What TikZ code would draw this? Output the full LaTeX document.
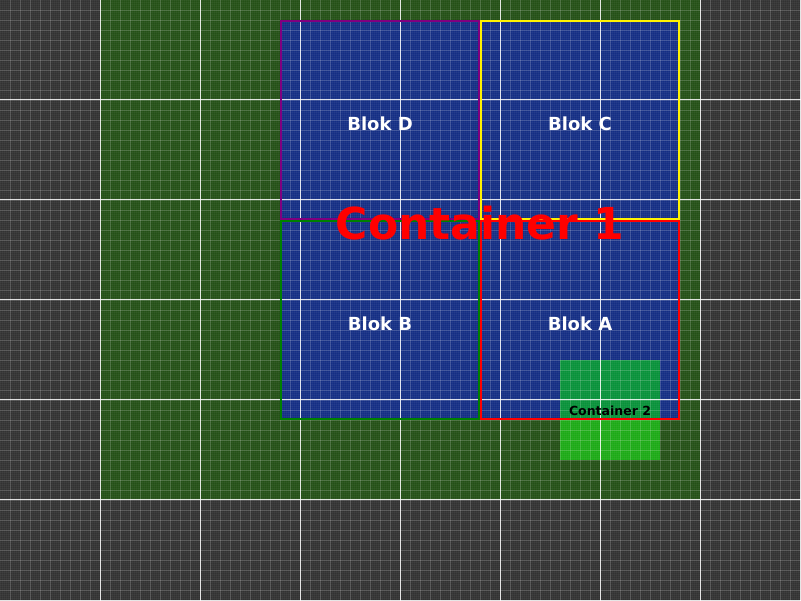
\documentclass[tikz,border=0pt]{standalone}
\usepackage{fontspec}
\setmainfont{DejaVu Sans}
\begin{document}
\begin{tikzpicture}[x=1pt,y=-1pt,
  blockbox/.style={fill=blockblue, minimum width=200pt, minimum height=200pt, inner sep=0pt},
  blockedge/.style={line width=2pt},
  blocktext/.style={text=white, font=\fontsize{18}{20}\selectfont\bfseries},
  finegrid/.style={draw=white, opacity=0.035, line width=0.5pt},
  minorgrid/.style={draw=white, opacity=0.16, line width=0.8pt},
  majorgrid/.style={draw=white, opacity=0.85, line width=1pt}]
\definecolor{bggray}{RGB}{50,50,50}
\definecolor{contgreen}{RGB}{36,80,22}
\definecolor{blockblue}{RGB}{20,46,132}
\definecolor{c2top}{RGB}{8,146,58}
\definecolor{c2bot}{RGB}{28,170,22}
\definecolor{dpurple}{RGB}{128,0,128}
\definecolor{bgreen}{RGB}{0,128,0}
\useasboundingbox (0,0) rectangle (801,601);
\fill[bggray] (0,0) rectangle (801,601);
\fill[contgreen] (100,0) rectangle (700,500);
% blocks
\node[blockbox] (B) at (380,320) {};
\node[blockbox] (A) at (580,320) {};
\node[blockbox] (D) at (380,120) {};
\node[blockbox] (C) at (580,120) {};
% container 2
\fill[c2top] (560,360) rectangle (660,420);
\fill[c2bot] (560,420) rectangle (660,460);
\coordinate (c2) at (610,411);
% grid
\foreach \i in {0,2,...,800} \draw[finegrid] (\i,0) -- (\i,601);
\foreach \j in {0,2,...,600} \draw[finegrid] (0,\j) -- (801,\j);
\foreach \i in {10,20,...,800} \draw[minorgrid] (\i,0) -- (\i,601);
\foreach \j in {10,20,...,600} \draw[minorgrid] (0,\j) -- (801,\j);
\foreach \i in {100,200,...,800} \draw[majorgrid] (\i,0) -- (\i,601);
\foreach \j in {100,200,...,600} \draw[majorgrid] (0,\j) -- (801,\j);
% block borders (drawn just inside each block)
\draw[blockedge, draw=bgreen] ([shift={(1,-1)}]B.south west) rectangle ([shift={(-1,1)}]B.north east);
\draw[blockedge, draw=red] ([shift={(1,-1)}]A.south west) rectangle ([shift={(-1,1)}]A.north east);
\draw[blockedge, draw=dpurple] ([shift={(1,-1)}]D.south west) rectangle ([shift={(-1,1)}]D.north east);
\draw[blockedge, draw=yellow] ([shift={(1,-1)}]C.south west) rectangle ([shift={(-1,1)}]C.north east);
% labels
\node[blocktext] at ([yshift=-4pt]D.center) {Blok D};
\node[blocktext] at ([yshift=-4pt]C.center) {Blok C};
\node[blocktext] at ([yshift=-4pt]B.center) {Blok B};
\node[blocktext] at ([yshift=-4pt]A.center) {Blok A};
\node[text=black, font=\fontsize{12.5}{14}\selectfont\bfseries] (c2label) at (c2) {Container 2};
\node[text=red, font=\fontsize{44}{48}\selectfont\bfseries] (c1label) at (480,223) {Container 1};
\end{tikzpicture}
\end{document}
